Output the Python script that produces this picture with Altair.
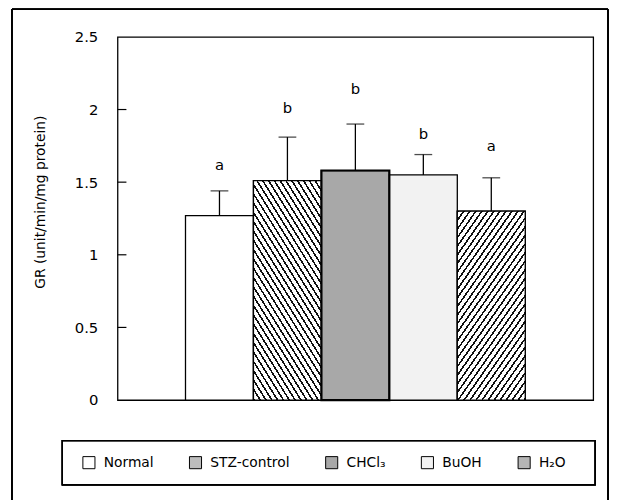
import math
import altair as alt
import pandas as pd

# ---- data ----
groups = ["Normal", "STZ-control", "CHCl₃", "BuOH", "H₂O"]
means = [1.27, 1.51, 1.58, 1.55, 1.30]
sds = [0.17, 0.30, 0.32, 0.14, 0.23]
letters = ["a", "b", "b", "b", "a"]
letter_y = [1.62, 2.01, 2.14, 1.83, 1.75]
y_ticks = [0, 0.5, 1, 1.5, 2, 2.5]
inner_ticks = [0.5, 1, 1.5, 2]

# ---- layout / style ----
PLOT_W, PLOT_H = 482, 368
Y_MAX = 2.5
STEP = PLOT_W / 7.0
FONT = "DejaVu Sans"
legend_fill = ["#ffffff", "#bdbdbd", "#a8a8a8", "#f2f2f2", "#b5b5b5"]

df = pd.DataFrame({
    "group": groups,
    "mean": means,
    "upper": [m + s for m, s in zip(means, sds)],
    "letter": letters,
    "ly": letter_y,
})


def stripes(w, h, angle_deg, spacing, line_w, dark="#111111", light="#ffffff"):
    a = math.radians(angle_deg)
    dx, dy = math.cos(a), math.sin(a)
    nx, ny = dy, -dx
    proj = [0.0, w * nx, h * ny, w * nx + h * ny]
    m, M = min(proj), max(proj)
    L = M - m
    gx, gy = dy / h, -dx / w
    g2 = gx * gx + gy * gy
    mn, Mn = m / (w * h), M / (w * h)
    x1, y1 = gx * mn / g2, gy * mn / g2
    x2, y2 = gx * Mn / g2, gy * Mn / g2
    stops = []
    t = 0.0
    while t < L:
        a0 = t / L
        a1 = min((t + line_w) / L, 1.0)
        a2 = min((t + spacing) / L, 1.0)
        stops += [
            {"offset": round(a0, 5), "color": dark},
            {"offset": round(a1, 5), "color": dark},
            {"offset": round(a1, 5), "color": light},
            {"offset": round(a2, 5), "color": light},
        ]
        t += spacing
    return {"gradient": "linear", "x1": x1, "y1": y1, "x2": x2, "y2": y2,
            "stops": stops}


x_enc = alt.X("group:N", sort=groups, axis=None,
              scale=alt.Scale(domain=groups, paddingInner=0, paddingOuter=1))
y_scale = alt.Scale(domain=[0, Y_MAX], nice=False, zero=True)

base = alt.Chart(df)

bars = base.mark_bar(stroke="black", strokeWidth=1.3).encode(
    x=x_enc,
    y=alt.Y("mean:Q", scale=y_scale,
            axis=alt.Axis(values=y_ticks, format="~g", grid=False, domain=False,
                          ticks=False, labelPadding=20, labelFontSize=15,
                          labelColor="black", title="GR (unit/min/mg protein)",
                          titleFontSize=14, titleFontWeight="normal",
                          titleColor="black", titleX=-78, titleY=167,
                          titleAngle=270, titleBaseline="middle",
                          titleAlign="center")),
    fill=alt.Fill("group:N", scale=alt.Scale(domain=groups, range=legend_fill),
                  legend=alt.Legend(title=None, orient="none", direction="horizontal",
                                    legendX=-36, legendY=424, padding=0,
                                    symbolType="square", symbolSize=150,
                                    symbolStrokeColor="black", symbolStrokeWidth=1,
                                    symbolOpacity=1, labelFontSize=14,
                                    labelColor="black", labelOffset=8,
                                    columnPadding=33, labelLimit=200)),
)

overlays = []
pattern_spec = {"STZ-control": 58, "H₂O": -55}
for g, ang in pattern_spec.items():
    i = groups.index(g)
    h = means[i] / Y_MAX * PLOT_H
    grad = stripes(STEP, h, ang, 5.0, 1.6)
    overlays.append(
        base.transform_filter(alt.datum.group == g)
        .mark_bar(fill=grad, stroke="black", strokeWidth=1.3)
        .encode(x=x_enc, y=alt.Y("mean:Q", scale=y_scale))
    )

chcl = base.transform_filter(alt.datum.group == "CHCl₃").mark_bar(
    fill="none", stroke="black", strokeWidth=2.2
).encode(x=x_enc, y=alt.Y("mean:Q", scale=y_scale))

err_rule = base.mark_rule(color="black", strokeWidth=1.3).encode(
    x=x_enc, y=alt.Y("mean:Q", scale=y_scale), y2="upper:Q")
err_cap = base.mark_tick(color="black", size=18, thickness=1.3).encode(
    x=x_enc, y=alt.Y("upper:Q", scale=y_scale))

labels = base.mark_text(fontSize=15, color="black", baseline="middle").encode(
    x=x_enc, y=alt.Y("ly:Q", scale=y_scale), text="letter:N")

ticks_df = pd.DataFrame({"v": inner_ticks})
inner = alt.Chart(ticks_df).mark_rule(color="black", strokeWidth=1.2).encode(
    y=alt.Y("v:Q", scale=y_scale), x=alt.value(0), x2=alt.value(9))

# decorative outer frame (left, top, right) and legend box
frame_l = alt.Chart(ticks_df).mark_rule(color="black", strokeWidth=1.4).encode(
    x=alt.value(-107), y=alt.value(-28), y2=alt.value(470))
frame_t = alt.Chart(ticks_df).mark_rule(color="black", strokeWidth=1.4).encode(
    x=alt.value(-107), x2=alt.value(497), y=alt.value(-28))
frame_r = alt.Chart(ticks_df).mark_rule(color="black", strokeWidth=1.4).encode(
    x=alt.value(497), y=alt.value(-28), y2=alt.value(470))
leg_box = alt.Chart(ticks_df).mark_rect(fill="white", fillOpacity=0,
                                        stroke="black", strokeWidth=1.3).encode(
    x=alt.value(-56), x2=alt.value(484), y=alt.value(409), y2=alt.value(454))

chart = alt.layer(
    frame_l, frame_t, frame_r, leg_box,
    bars, *overlays, chcl, err_rule, err_cap, labels, inner,
).properties(
    width=PLOT_W, height=PLOT_H,
    autosize=alt.AutoSizeParams(type="none"),
    padding={"left": 111, "top": 26, "right": 16, "bottom": 98},
).configure(font=FONT).configure_view(stroke="black", strokeWidth=1.3)

chart.save("out.html", embed_options={"renderer": "svg", "actions": False})
